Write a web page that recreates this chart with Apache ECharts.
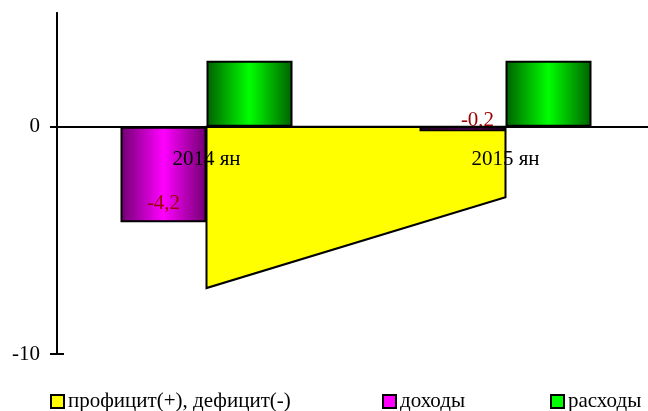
<!DOCTYPE html>
<html>
<head>
<meta charset="utf-8">
<script src="https://cdn.jsdelivr.net/npm/echarts@6/dist/echarts.min.js"></script>
<style>html,body{margin:0;padding:0;background:#fff}#c{width:648px;height:411px}</style>
</head>
<body>
<div id="c"></div>
<script>
var categories = ['2014 ян', '2015 ян'];
var balance = [-7.1, -3.1];   // профицит(+), дефицит(-)
var revenue = [-4.2, -0.2];   // доходы
var expense = [2.9, 2.9];     // расходы
var yTicks = [0, -10];

var FONT = 'Liberation Serif';
var FS = 21;
var chart = echarts.init(document.getElementById('c'));

function grad(edge, mid) {
  return new echarts.graphic.LinearGradient(0, 0, 1, 0, [
    {offset: 0, color: edge}, {offset: 0.5, color: mid}, {offset: 1, color: edge}
  ]);
}
var labelDist = [8, 0];
var labelOff = [[0, 0], [15, 0]];

chart.setOption({
  animation: false,
  grid: {left: 57, width: 598, top: 13, bottom: 57, outerBoundsMode: 'none', containLabel: false},
  xAxis: {
    type: 'category', data: categories, z: 10,
    position: 'bottom', offset: -227,
    axisLine: {onZero: false, lineStyle: {color: '#000', width: 2}},
    axisTick: {show: false},
    axisLabel: {margin: 22, color: '#000', fontFamily: FONT, fontSize: FS}
  },
  yAxis: [{
    type: 'value', min: -10, max: 5, interval: 5,
    splitLine: {show: false},
    axisLine: {show: true, lineStyle: {color: '#000', width: 2}},
    axisTick: {show: true, length: 7, customValues: yTicks, lineStyle: {color: '#000', width: 2}},
    axisLabel: {customValues: yTicks, margin: 17, color: '#000', fontFamily: FONT, fontSize: FS}
  }, {
    type: 'value', min: -10, max: 5, interval: 5, position: 'left', offset: 0,
    splitLine: {show: false},
    axisLine: {show: true, lineStyle: {color: '#000', width: 2}},
    axisTick: {show: true, inside: true, length: 7, customValues: yTicks, lineStyle: {color: '#000', width: 2}},
    axisLabel: {show: false}
  }],
  legend: [
    {left: 50, top: 391, itemWidth: 13, itemHeight: 13, itemGap: 0, padding: 0,
     textStyle: {fontFamily: FONT, fontSize: FS, color: '#000', padding: [0, 0, 0, -1]},
     data: [{name: 'профицит(+), дефицит(-)', icon: 'rect', itemStyle: {color: '#ffff00', borderColor: '#000', borderWidth: 2}}]},
    {left: 382, top: 391, itemWidth: 13, itemHeight: 13, itemGap: 0, padding: 0,
     textStyle: {fontFamily: FONT, fontSize: FS, color: '#000', padding: [0, 0, 0, -1]},
     data: [{name: 'доходы', icon: 'rect', itemStyle: {color: '#ff00ff', borderColor: '#000', borderWidth: 2}}]},
    {left: 550, top: 391, itemWidth: 13, itemHeight: 13, itemGap: 0, padding: 0,
     textStyle: {fontFamily: FONT, fontSize: FS, color: '#000', padding: [0, 0, 0, -1]},
     data: [{name: 'расходы', icon: 'rect', itemStyle: {color: '#00ff00', borderColor: '#000', borderWidth: 2}}]}
  ],
  series: [{
    name: 'профицит(+), дефицит(-)', type: 'custom', z: 1,
    itemStyle: {color: '#ffff00'},
    data: balance.map(function (v, i) { return [i, v]; }),
    renderItem: function (params, api) {
      if (params.dataIndex !== 0) return null;
      var pts = [api.coord([0, 0])];
      for (var i = 0; i < balance.length; i++) pts.push(api.coord([i, balance[i]]));
      pts.push(api.coord([balance.length - 1, 0]));
      return {type: 'polygon', shape: {points: pts},
        style: {fill: '#ffff00', stroke: '#000', lineWidth: 2}};
    }
  }, {
    name: 'доходы', type: 'bar', z: 3, barWidth: 86, barGap: 0,
    itemStyle: {color: grad('#700070', '#ff00ff'), borderColor: '#000', borderWidth: 2},
    data: revenue.map(function (v, i) {
      return {value: v, label: {show: true, position: 'insideBottom', distance: labelDist[i], offset: labelOff[i],
        formatter: function (p) { return String(p.value).replace('.', ','); },
        color: '#990000', fontFamily: FONT, fontSize: FS}};
    })
  }, {
    name: 'расходы', type: 'bar', z: 3, barWidth: 86, barGap: 0,
    itemStyle: {color: grad('#006000', '#00ff00'), borderColor: '#000', borderWidth: 2},
    data: expense
  }]
});
</script>
</body>
</html>
